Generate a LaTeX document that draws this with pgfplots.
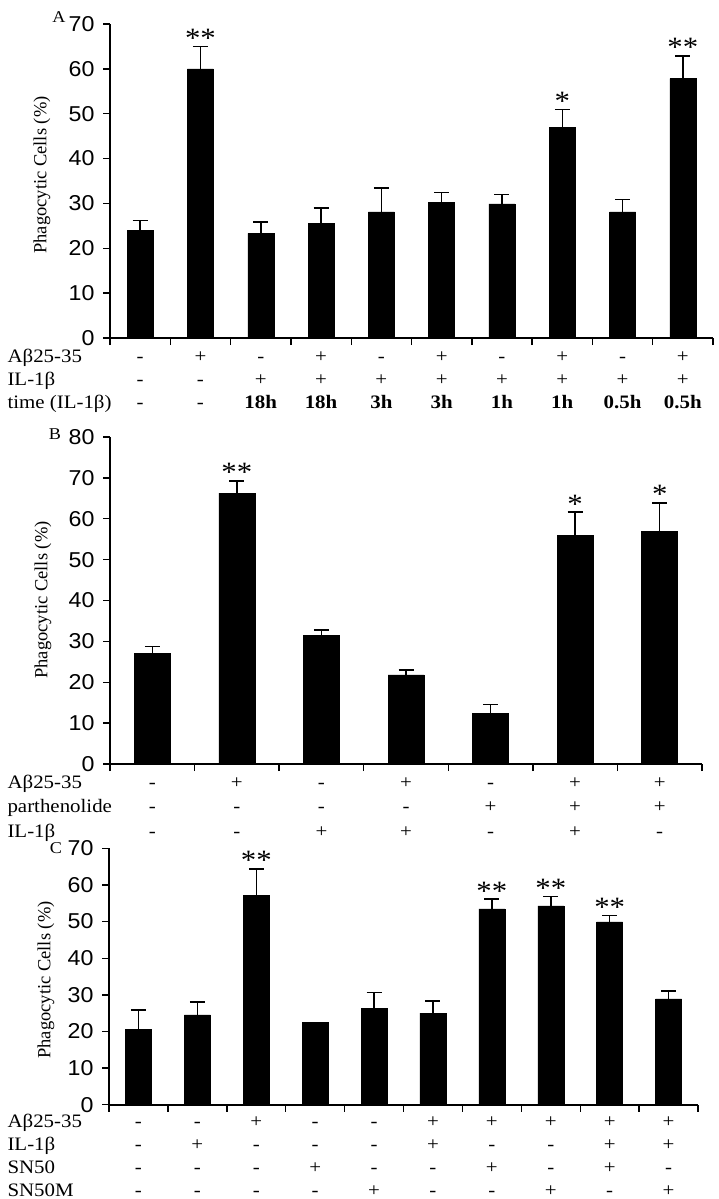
\documentclass[border=0pt]{standalone}
\usepackage{pgfplots}
\usepackage{pgfplotstable}
\pgfplotsset{compat=1.18}
\usepackage{fontspec}
\setmainfont{Liberation Serif}
\newfontfamily\serifW{Liberation Serif}[FakeStretch=1.1]
\newfontfamily\sansW{Liberation Sans}[FakeStretch=1.08]
\newcommand\rowfont{\serifW\fontsize{19}{22}\selectfont}
\newcommand\tickfont{\sansW\fontsize{21.5}{24}\selectfont}
\newcommand\ylabfont{\rmfamily\fontsize{18.5}{22}\selectfont}
\newcommand\astfont{\serifW\fontsize{28}{30}\selectfont}
\newcommand\letfont{\serifW\fontsize{16.5}{18}\selectfont}

\pgfplotstableread{
x y e
0.5 24.0 2.2
1.5 60.0 5.0
2.5 23.3 2.6
3.5 25.5 3.5
4.5 28.1 5.3
5.5 30.2 2.2
6.5 29.9 2.1
7.5 47.0 3.9
8.5 28.1 2.8
9.5 57.8 5.1
}\dataA
\pgfplotstableread{
x y e
0.5 27.0 1.7
1.5 66.3 3.0
2.5 31.5 1.3
3.5 21.8 1.2
4.5 12.3 2.3
5.5 56.0 5.6
6.5 57.0 6.9
}\dataB
\pgfplotstableread{
x y e
0.5 20.6 5.2
1.5 24.5 3.5
2.5 57.1 7.3
3.5 22.4 0
4.5 26.3 4.3
5.5 25.0 3.3
6.5 53.5 2.6
7.5 54.3 2.6
8.5 49.9 1.7
9.5 28.9 2.1
}\dataC

\pgfplotsset{panel/.style={
  scale only axis, anchor=south west,
  axis lines*=left, axis line style={line width=1.6pt, black},
  xmin=0, ymin=0,
  tick align=outside, major tick length=7pt,
  tick style={line width=1.4pt, black},
  xticklabels={},
  yticklabel style={font=\tickfont, xshift=-5pt, /pgf/number format/assume math mode=true},
  clip=false,
},
barplot/.style={ybar, fill=black, draw=black, line width=0.5pt,
  error bars/.cd, y dir=plus, y explicit,
  error bar style={line width=1.5pt, black},
  error mark options={rotate=90, mark size=7.5pt, line width=1.5pt, black},
  /pgfplots/.cd}
}

\begin{document}
\begin{tikzpicture}
\useasboundingbox (0pt,0pt) rectangle (719pt,-1199pt);

% ---------------- Panel A ----------------
\begin{axis}[panel, at={(110pt,-338pt)}, width=603pt, height=314pt,
  xmax=10, ymax=70, xtick={0,1,...,10}, ytick={0,10,...,70}]
\addplot[bar width=26pt, barplot] table[x=x,y=y,y error=e]{\dataA};
\node[font=\astfont, anchor=base] at (axis cs:1.5,65.0) [yshift=-1pt] {**};
\node[font=\astfont, anchor=base] at (axis cs:7.5,50.9) [yshift=-1pt] {*};
\node[font=\astfont, anchor=base] at (axis cs:9.5,62.9) [yshift=-1pt] {**};
\end{axis}
\node[font=\letfont] at (59pt,-17pt) {A};
\node[rotate=90, font=\ylabfont] at (42pt,-175pt) {Phagocytic Cells (\%)};
\node[anchor=base west, font=\rowfont] at (4pt,-362pt) {Aβ25-35};
\node[anchor=base west, font=\rowfont] at (4pt,-385pt) {IL-1β};
\node[anchor=base west, font=\rowfont] at (4pt,-408pt) {time (IL-1β)};
\foreach \m [count=\i from 0] in {-,+,-,+,-,+,-,+,-,+}
  \node[anchor=base, font=\rowfont] at ({(110+60.3*(\i+0.5))*1pt}, -362pt) {\m};
\foreach \m [count=\i from 0] in {-,-,+,+,+,+,+,+,+,+}
  \node[anchor=base, font=\rowfont] at ({(110+60.3*(\i+0.5))*1pt}, -385pt) {\m};
\foreach \m [count=\i from 0] in {-,-,\textbf{18h},\textbf{18h},\textbf{3h},\textbf{3h},\textbf{1h},\textbf{1h},\textbf{0.5h},\textbf{0.5h}}
  \node[anchor=base, font=\rowfont] at ({(110+60.3*(\i+0.5))*1pt}, -408pt) {\m};

% ---------------- Panel B ----------------
\begin{axis}[panel, at={(110pt,-764pt)}, width=592pt, height=327pt,
  xmax=7, ymax=80, xtick={0,1,...,7}, ytick={0,10,...,80}]
\addplot[bar width=36pt, barplot] table[x=x,y=y,y error=e]{\dataB};
\node[font=\astfont, anchor=base] at (axis cs:1.5,69.3) [yshift=-1pt] {**};
\node[font=\astfont, anchor=base] at (axis cs:5.5,61.6) [yshift=-1pt] {*};
\node[font=\astfont, anchor=base] at (axis cs:6.5,63.9) [yshift=-1pt] {*};
\end{axis}
\node[font=\letfont] at (55pt,-434pt) {B};
\node[rotate=90, font=\ylabfont] at (43pt,-600pt) {Phagocytic Cells (\%)};
\node[anchor=base west, font=\rowfont] at (4pt,-788pt) {Aβ25-35};
\node[anchor=base west, font=\rowfont] at (4pt,-812.5pt) {parthenolide};
\node[anchor=base west, font=\rowfont] at (4pt,-837pt) {IL-1β};
\foreach \m [count=\i from 0] in {-,+,-,+,-,+,+}
  \node[anchor=base, font=\rowfont] at ({(110+84.57*(\i+0.5))*1pt}, -788pt) {\m};
\foreach \m [count=\i from 0] in {-,-,-,-,+,+,+}
  \node[anchor=base, font=\rowfont] at ({(110+84.57*(\i+0.5))*1pt}, -812.5pt) {\m};
\foreach \m [count=\i from 0] in {-,-,+,+,-,+,-}
  \node[anchor=base, font=\rowfont] at ({(110+84.57*(\i+0.5))*1pt}, -837pt) {\m};

% ---------------- Panel C ----------------
\begin{axis}[panel, at={(109pt,-1104.7pt)}, width=589pt, height=256.4pt,
  xmax=10, ymax=70, xtick={0,1,...,10}, ytick={0,10,...,70}]
\addplot[bar width=26pt, barplot] table[x=x,y=y,y error=e]{\dataC};
\node[font=\astfont, anchor=base] at (axis cs:2.5,64.4) [yshift=-1pt] {**};
\node[font=\astfont, anchor=base] at (axis cs:6.5,56.1) [yshift=-1pt] {**};
\node[font=\astfont, anchor=base] at (axis cs:7.5,56.9) [yshift=-1pt] {**};
\node[font=\astfont, anchor=base] at (axis cs:8.5,51.6) [yshift=-1pt] {**};
\end{axis}
\node[font=\letfont] at (56pt,-848pt) {C};
\node[rotate=90, font=\ylabfont] at (46pt,-980pt) {Phagocytic Cells (\%)};
\node[anchor=base west, font=\rowfont] at (4pt,-1127pt) {Aβ25-35};
\node[anchor=base west, font=\rowfont] at (4pt,-1150pt) {IL-1β};
\node[anchor=base west, font=\rowfont] at (4pt,-1173pt) {SN50};
\node[anchor=base west, font=\rowfont] at (4pt,-1196pt) {SN50M};
\foreach \m [count=\i from 0] in {-,-,+,-,-,+,+,+,+,+}
  \node[anchor=base, font=\rowfont] at ({(109+58.9*(\i+0.5))*1pt}, -1127pt) {\m};
\foreach \m [count=\i from 0] in {-,+,-,-,-,+,-,-,+,+}
  \node[anchor=base, font=\rowfont] at ({(109+58.9*(\i+0.5))*1pt}, -1150pt) {\m};
\foreach \m [count=\i from 0] in {-,-,-,+,-,-,+,-,+,-}
  \node[anchor=base, font=\rowfont] at ({(109+58.9*(\i+0.5))*1pt}, -1173pt) {\m};
\foreach \m [count=\i from 0] in {-,-,-,-,+,-,-,+,-,+}
  \node[anchor=base, font=\rowfont] at ({(109+58.9*(\i+0.5))*1pt}, -1196pt) {\m};
\end{tikzpicture}
\end{document}
